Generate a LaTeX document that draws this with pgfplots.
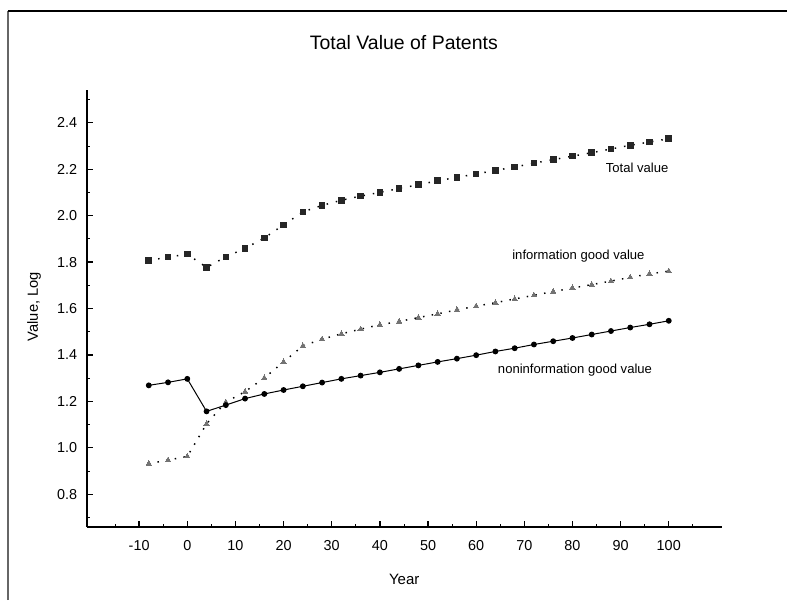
\documentclass[border=0pt]{standalone}
\usepackage{fontspec}
\setmainfont{Liberation Sans}
\usepackage{pgfplots}
\usepackage{pgfplotstable}
\pgfplotsset{compat=1.18}

% Log values of patents by year
\pgfplotstableread{
x    total  info   noninfo
-8   1.807  0.932  1.269
-4   1.821  0.947  1.282
0    1.834  0.963  1.297
4    1.777  1.103  1.157
8    1.822  1.197  1.184
12   1.859  1.242  1.212
16   1.904  1.301  1.232
20   1.960  1.370  1.249
24   2.016  1.439  1.265
28   2.044  1.468  1.281
32   2.066  1.491  1.297
36   2.084  1.511  1.311
40   2.100  1.530  1.325
44   2.117  1.544  1.340
48   2.133  1.561  1.355
52   2.150  1.577  1.370
56   2.165  1.594  1.384
60   2.179  1.610  1.399
64   2.195  1.625  1.415
68   2.209  1.641  1.429
72   2.226  1.657  1.445
76   2.241  1.673  1.459
80   2.256  1.688  1.473
84   2.271  1.703  1.488
88   2.287  1.718  1.503
92   2.303  1.734  1.518
96   2.317  1.749  1.532
100  2.331  1.761  1.547
}\patents

\begin{document}
\begin{tikzpicture}
\useasboundingbox (-65.475pt,-54.75pt) rectangle (524.775pt,395.25pt);
% outer frame
\draw[line width=1.2pt, black!60] (-59.475pt,-54.75pt) -- (-59.475pt,387pt);
\draw[line width=0.8pt, black] (-59.475pt,387pt) -- (524.775pt,387pt);

\begin{axis}[
  at={(0pt,0pt)}, anchor=south west,
  scale only axis, width=475.8pt, height=327.75pt,
  xmin=-20.77, xmax=111, ymin=0.659, ymax=2.541,
  axis x line*=bottom, axis y line*=left,
  axis line style={-, line width=1.5pt, black},
  xtick={-10,0,10,20,30,40,50,60,70,80,90,100},
  minor xtick={-15,-5,5,15,25,35,45,55,65,75,85,95,105},
  ytick={0.8,1.0,1.2,1.4,1.6,1.8,2.0,2.2,2.4},
  minor ytick={0.7,0.9,1.1,1.3,1.5,1.7,1.9,2.1,2.3,2.5},
  major tick length=4.5pt, minor tick length=2.25pt,
  major tick style={line width=1pt, black},
  minor tick style={line width=0.6pt, black},
  tick align=inside,
  /pgf/number format/assume math mode=true,
  tick label style={font=\fontsize{10.8}{12}\selectfont},
  xticklabel style={anchor=base, yshift=-17.8pt},
  yticklabel style={anchor=east, inner sep=0pt, xshift=-7.5pt,
    /pgf/number format/.cd, fixed, fixed zerofill, precision=1},
  clip=false,
]
\addplot[black, line width=1.1pt, dash pattern=on 1.1pt off 6pt,
  mark=square*, mark size=2.1pt,
  mark options={solid, fill=black!85, draw=black!85, line width=0pt}]
  table[x=x, y=total] {\patents};
\addplot[black, line width=1.1pt, dash pattern=on 1.1pt off 5.5pt,
  mark=triangle*, mark size=2.3pt,
  mark options={solid, fill=black!55, draw=black!55, line width=0pt}]
  table[x=x, y=info] {\patents};
\addplot[black, line width=0.75pt,
  mark=*, mark size=1.8pt, mark options={solid, fill=black}]
  table[x=x, y=noninfo] {\patents};

\node[anchor=base east, font=\fontsize{9.8}{11}\selectfont] at (axis cs:100.9,2.185) {Total value};
\node[anchor=base east, font=\fontsize{9.8}{11}\selectfont] at (axis cs:95.95,1.809) {information good value};
\node[anchor=base east, font=\fontsize{9.8}{11}\selectfont] at (axis cs:97.5,1.318) {noninformation good value};
\end{axis}

\node[anchor=base, font=\fontsize{14.6}{17}\selectfont] at (237.4pt,357.75pt) {Total Value of Patents};
\node[anchor=base, font=\fontsize{11.25}{13}\selectfont] at (237.7pt,-43pt) {Year};
\node[anchor=base, rotate=90, font=\fontsize{11}{13}\selectfont] at (-37pt,165.2pt) {Value, Log};
\end{tikzpicture}
\end{document}
